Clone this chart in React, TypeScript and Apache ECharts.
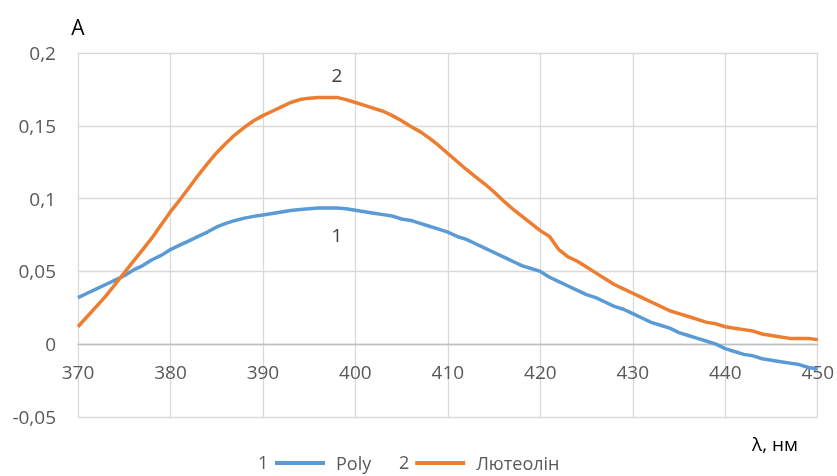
import React, { useEffect, useRef } from "react";
import * as echarts from "echarts";

const wavelengths: number[] = [];
for (let w = 370; w <= 450; w++) wavelengths.push(w);

const polyValues = [
  0.032, 0.035, 0.038, 0.041, 0.044, 0.047, 0.051, 0.054, 0.058, 0.061,
  0.065, 0.068, 0.071, 0.074, 0.077, 0.0805, 0.083, 0.085, 0.0866, 0.0878,
  0.0888, 0.0898, 0.0908, 0.0918, 0.0925, 0.093, 0.0935, 0.0935, 0.0935, 0.093,
  0.092, 0.091, 0.090, 0.089, 0.088, 0.086, 0.085, 0.083, 0.081, 0.079,
  0.077, 0.074, 0.072, 0.069, 0.066, 0.063, 0.060, 0.057, 0.054, 0.052,
  0.050, 0.046, 0.043, 0.040, 0.037, 0.034, 0.032, 0.029, 0.026, 0.024,
  0.021, 0.018, 0.015, 0.013, 0.011, 0.008, 0.006, 0.004, 0.002, 0.000,
  -0.003, -0.005, -0.007, -0.008, -0.010, -0.011, -0.012, -0.013, -0.014, -0.016,
  -0.017,
];

const luteolinValues = [
  0.012, 0.019, 0.026, 0.033, 0.041, 0.049, 0.057, 0.065, 0.073, 0.082,
  0.091, 0.099, 0.1075, 0.116, 0.124, 0.1315, 0.138, 0.144, 0.149, 0.1535,
  0.157, 0.160, 0.163, 0.166, 0.168, 0.169, 0.1695, 0.1695, 0.1695, 0.168,
  0.166, 0.164, 0.162, 0.160, 0.157, 0.1535, 0.1495, 0.146, 0.1415, 0.1365,
  0.131, 0.1255, 0.120, 0.115, 0.110, 0.1045, 0.0985, 0.093, 0.088, 0.083,
  0.078, 0.074, 0.065, 0.060, 0.057, 0.053, 0.049, 0.045, 0.041, 0.038,
  0.035, 0.032, 0.029, 0.026, 0.023, 0.021, 0.019, 0.017, 0.015, 0.014,
  0.012, 0.011, 0.010, 0.009, 0.007, 0.006, 0.005, 0.004, 0.004, 0.004,
  0.003,
];

const seriesNames = ["Poly", "Лютеолін"];
const seriesNumbers = ["1", "2"];
const labelWavelength = 398;

const FONT = "'Open Sans', 'Noto Sans', sans-serif";

function buildData(values: number[], label: any) {
  return wavelengths.map((w, i) =>
    w === labelWavelength ? { value: [w, values[i]], label } : [w, values[i]]
  );
}

export default function App() {
  const ref = useRef<HTMLDivElement>(null);
  useEffect(() => {
    if (!ref.current) return;
    const chart = echarts.init(ref.current, undefined, { renderer: "svg" });
    const labelStyle = { fontFamily: FONT, fontSize: 19, color: "#404040" };
    chart.setOption({
      animation: false,
      grid: { left: 78, right: 18, top: 53, bottom: 59 },
      xAxis: {
        type: "value",
        min: 370,
        max: 450,
        interval: 10,
        offset: -72.8,
        axisLine: { show: true, onZero: false, lineStyle: { color: "#bfbfbf", width: 1.3 } },
        axisTick: { show: false },
        axisLabel: { margin: 18, fontFamily: FONT, fontSize: 19, color: "#595959" },
        splitLine: { show: true, lineStyle: { color: "#d9d9d9", width: 1.3 } },
      },
      yAxis: {
        type: "value",
        min: -0.05,
        max: 0.2,
        interval: 0.05,
        name: "A",
        nameLocation: "end",
        nameGap: 16,
        nameTextStyle: { fontFamily: FONT, fontSize: 21, color: "#000000", align: "center" },
        axisLine: { show: false },
        axisTick: { show: false },
        axisLabel: {
          margin: 22,
          fontFamily: FONT,
          fontSize: 19,
          color: "#595959",
          formatter: (v: number) => String(+v.toFixed(2)).replace(".", ","),
        },
        splitLine: { show: true, lineStyle: { color: "#d9d9d9", width: 1.3 } },
      },
      legend: {
        left: 270,
        top: 449,
        icon: "rect",
        itemWidth: 50,
        itemHeight: 4,
        itemGap: 44,
        textStyle: { fontFamily: FONT, fontSize: 18, color: "#595959", padding: [0, 0, 0, 6] },
        data: seriesNames,
      },
      graphic: [
        { type: "text", left: 258, top: 453, style: { text: seriesNumbers[0], font: `18px ${FONT}`, fill: "#595959" } },
        { type: "text", left: 399, top: 453, style: { text: seriesNumbers[1], font: `18px ${FONT}`, fill: "#595959" } },
        { type: "text", left: 752, top: 434, style: { text: "λ, нм", font: `19px ${FONT}`, fill: "#000000" } },
      ],
      series: [
        {
          name: seriesNames[0],
          type: "line",
          symbol: "circle",
          symbolSize: 0,
          showSymbol: true,
          lineStyle: { color: "#5b9bd5", width: 3.5 },
          itemStyle: { color: "#5b9bd5" },
          data: buildData(polyValues, {
            show: true,
            formatter: seriesNumbers[0],
            position: "bottom",
            distance: 17,
            ...labelStyle,
          }),
        },
        {
          name: seriesNames[1],
          type: "line",
          symbol: "circle",
          symbolSize: 0,
          showSymbol: true,
          lineStyle: { color: "#ed7d31", width: 3.5 },
          itemStyle: { color: "#ed7d31" },
          data: buildData(luteolinValues, {
            show: true,
            formatter: seriesNumbers[1],
            position: "top",
            distance: 13,
            ...labelStyle,
          }),
        },
      ],
    });
    return () => chart.dispose();
  }, []);
  return (
    <div
      ref={ref}
      style={{ position: "fixed", left: 0, top: 0, width: 837, height: 476 }}
    />
  );
}
